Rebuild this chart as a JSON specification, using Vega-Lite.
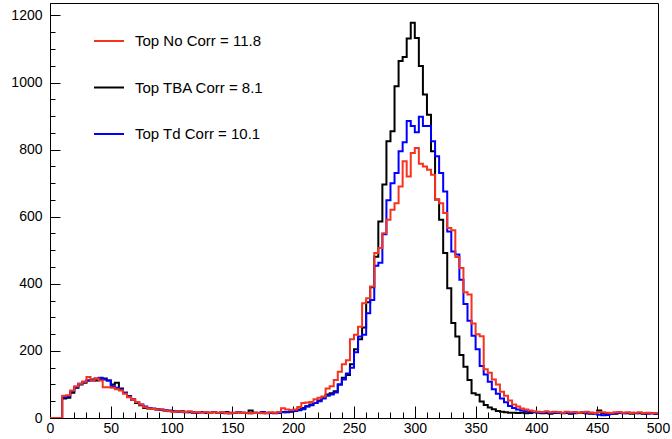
{
"$schema": "https://vega.github.io/schema/vega-lite/v6.json",
"width": 608, "height": 415,
"autosize": {"type": "none"},
"padding": {"left": 50, "top": 3, "right": 14, "bottom": 21},
"background": "white",
"config": {"view": {"stroke": "black", "strokeWidth": 1}, "font": "Liberation Sans"},
"data": {"values": [
{"x":0,"a":0,"b":0,"c":0},
{"x":3.333,"a":0,"b":0,"c":0},
{"x":6.667,"a":0,"b":0,"c":0},
{"x":10,"a":66,"b":58,"c":62},
{"x":13.333,"a":68,"b":60,"c":65},
{"x":16.667,"a":82,"b":75,"c":80},
{"x":20,"a":95,"b":90,"c":92},
{"x":23.333,"a":102,"b":100,"c":102},
{"x":26.667,"a":108,"b":105,"c":108},
{"x":30,"a":122,"b":112,"c":112},
{"x":33.333,"a":112,"b":115,"c":112},
{"x":36.667,"a":118,"b":112,"c":118},
{"x":40,"a":112,"b":115,"c":120},
{"x":43.333,"a":92,"b":118,"c":115},
{"x":46.667,"a":92,"b":112,"c":112},
{"x":50,"a":90,"b":100,"c":95},
{"x":53.333,"a":86,"b":105,"c":90},
{"x":56.667,"a":82,"b":88,"c":85},
{"x":60,"a":72,"b":75,"c":75},
{"x":63.333,"a":62,"b":65,"c":65},
{"x":66.667,"a":55,"b":55,"c":55},
{"x":70,"a":48,"b":45,"c":48},
{"x":73.333,"a":40,"b":38,"c":40},
{"x":76.667,"a":32,"b":30,"c":34},
{"x":80,"a":28,"b":28,"c":30},
{"x":83.333,"a":27,"b":27,"c":28},
{"x":86.667,"a":25,"b":25,"c":26},
{"x":90,"a":25,"b":24,"c":25},
{"x":93.333,"a":22,"b":22,"c":23},
{"x":96.667,"a":20,"b":21,"c":22},
{"x":100,"a":18,"b":20,"c":20},
{"x":103.333,"a":20,"b":19,"c":20},
{"x":106.667,"a":19,"b":20,"c":18},
{"x":110,"a":18,"b":17,"c":19},
{"x":113.333,"a":20,"b":18,"c":17},
{"x":116.667,"a":17,"b":16,"c":18},
{"x":120,"a":18,"b":17,"c":16},
{"x":123.333,"a":16,"b":18,"c":17},
{"x":126.667,"a":18,"b":15,"c":15},
{"x":130,"a":15,"b":16,"c":16},
{"x":133.333,"a":17,"b":17,"c":18},
{"x":136.667,"a":16,"b":15,"c":15},
{"x":140,"a":18,"b":16,"c":17},
{"x":143.333,"a":15,"b":18,"c":14},
{"x":146.667,"a":14,"b":14,"c":16},
{"x":150,"a":16,"b":15,"c":15},
{"x":153.333,"a":17,"b":17,"c":17},
{"x":156.667,"a":15,"b":16,"c":16},
{"x":160,"a":16,"b":15,"c":15},
{"x":163.333,"a":14,"b":22,"c":14},
{"x":166.667,"a":15,"b":16,"c":16},
{"x":170,"a":16,"b":15,"c":15},
{"x":173.333,"a":14,"b":17,"c":17},
{"x":176.667,"a":15,"b":16,"c":14},
{"x":180,"a":17,"b":15,"c":15},
{"x":183.333,"a":16,"b":14,"c":16},
{"x":186.667,"a":18,"b":16,"c":15},
{"x":190,"a":29,"b":18,"c":17},
{"x":193.333,"a":25,"b":17,"c":18},
{"x":196.667,"a":24,"b":19,"c":20},
{"x":200,"a":25,"b":21,"c":22},
{"x":203.333,"a":33,"b":25,"c":23},
{"x":206.667,"a":45,"b":30,"c":26},
{"x":210,"a":46,"b":35,"c":34},
{"x":213.333,"a":48,"b":40,"c":38},
{"x":216.667,"a":56,"b":45,"c":45},
{"x":220,"a":60,"b":52,"c":50},
{"x":223.333,"a":64,"b":62,"c":58},
{"x":226.667,"a":88,"b":70,"c":66},
{"x":230,"a":95,"b":74,"c":70},
{"x":233.333,"a":113,"b":80,"c":76},
{"x":236.667,"a":138,"b":100,"c":100},
{"x":240,"a":160,"b":120,"c":115},
{"x":243.333,"a":172,"b":128,"c":133},
{"x":246.667,"a":235,"b":160,"c":150},
{"x":250,"a":248,"b":205,"c":196},
{"x":253.333,"a":272,"b":235,"c":243},
{"x":256.667,"a":342,"b":270,"c":248},
{"x":260,"a":357,"b":345,"c":312},
{"x":263.333,"a":392,"b":390,"c":352},
{"x":266.667,"a":492,"b":481,"c":454},
{"x":270,"a":507,"b":586,"c":463},
{"x":273.333,"a":551,"b":696,"c":548},
{"x":276.667,"a":591,"b":825,"c":649},
{"x":280,"a":621,"b":855,"c":700},
{"x":283.333,"a":640,"b":989,"c":730},
{"x":286.667,"a":690,"b":1064,"c":795},
{"x":290,"a":765,"b":1076,"c":822},
{"x":293.333,"a":720,"b":1131,"c":885},
{"x":296.667,"a":790,"b":1178,"c":870},
{"x":300,"a":805,"b":1133,"c":852},
{"x":303.333,"a":758,"b":1049,"c":898},
{"x":306.667,"a":750,"b":964,"c":870},
{"x":310,"a":740,"b":904,"c":870},
{"x":313.333,"a":725,"b":795,"c":825},
{"x":316.667,"a":651,"b":651,"c":780},
{"x":320,"a":640,"b":591,"c":730},
{"x":323.333,"a":611,"b":492,"c":675},
{"x":326.667,"a":566,"b":387,"c":556},
{"x":330,"a":560,"b":283,"c":496},
{"x":333.333,"a":480,"b":243,"c":487},
{"x":336.667,"a":447,"b":188,"c":412},
{"x":340,"a":375,"b":153,"c":340},
{"x":343.333,"a":368,"b":113,"c":290},
{"x":346.667,"a":282,"b":74,"c":245},
{"x":350,"a":250,"b":69,"c":205},
{"x":353.333,"a":244,"b":49,"c":155},
{"x":356.667,"a":145,"b":39,"c":130},
{"x":360,"a":135,"b":31,"c":108},
{"x":363.333,"a":115,"b":26,"c":86},
{"x":366.667,"a":100,"b":21,"c":72},
{"x":370,"a":78,"b":19,"c":58},
{"x":373.333,"a":66,"b":17,"c":47},
{"x":376.667,"a":52,"b":16,"c":36},
{"x":380,"a":40,"b":16,"c":30},
{"x":383.333,"a":34,"b":15,"c":25},
{"x":386.667,"a":28,"b":16,"c":22},
{"x":390,"a":25,"b":14,"c":20},
{"x":393.333,"a":22,"b":15,"c":19},
{"x":396.667,"a":20,"b":17,"c":18},
{"x":400,"a":19,"b":16,"c":17},
{"x":403.333,"a":18,"b":14,"c":16},
{"x":406.667,"a":20,"b":15,"c":18},
{"x":410,"a":17,"b":13,"c":15},
{"x":413.333,"a":19,"b":15,"c":17},
{"x":416.667,"a":18,"b":16,"c":16},
{"x":420,"a":16,"b":14,"c":15},
{"x":423.333,"a":19,"b":15,"c":17},
{"x":426.667,"a":17,"b":13,"c":14},
{"x":430,"a":18,"b":14,"c":16},
{"x":433.333,"a":16,"b":16,"c":15},
{"x":436.667,"a":17,"b":15,"c":17},
{"x":440,"a":19,"b":14,"c":14},
{"x":443.333,"a":16,"b":13,"c":16},
{"x":446.667,"a":15,"b":15,"c":13},
{"x":450,"a":18,"b":22,"c":10},
{"x":453.333,"a":17,"b":14,"c":8},
{"x":456.667,"a":16,"b":15,"c":9},
{"x":460,"a":15,"b":14,"c":12},
{"x":463.333,"a":17,"b":13,"c":15},
{"x":466.667,"a":18,"b":16,"c":16},
{"x":470,"a":16,"b":15,"c":14},
{"x":473.333,"a":17,"b":14,"c":15},
{"x":476.667,"a":15,"b":13,"c":16},
{"x":480,"a":16,"b":15,"c":14},
{"x":483.333,"a":17,"b":14,"c":15},
{"x":486.667,"a":15,"b":13,"c":14},
{"x":490,"a":16,"b":15,"c":13},
{"x":493.333,"a":14,"b":14,"c":14},
{"x":496.667,"a":15,"b":13,"c":13},
{"x":500,"a":15,"b":13,"c":13}
]},
"transform": [{"fold": ["b", "c", "a"], "as": ["series", "value"]}],
"mark": {"type": "line", "interpolate": "step-after", "strokeWidth": 2, "clip": true},
"encoding": {
  "x": {"field": "x", "type": "quantitative",
    "scale": {"domain": [0, 500], "nice": false, "zero": false},
    "axis": {"title": null, "grid": false,
      "values": [0,10,20,30,40,50,60,70,80,90,100,110,120,130,140,150,160,170,180,190,200,210,220,230,240,250,260,270,280,290,300,310,320,330,340,350,360,370,380,390,400,410,420,430,440,450,460,470,480,490,500],
      "labelExpr": "datum.value % 50 === 0 ? '' + datum.value : ''",
      "tickSize": {"condition": {"test": "datum.value % 50 === 0", "value": -12}, "value": -6},
      "tickColor": "black", "tickWidth": 1, "domainColor": "black", "domainWidth": 1,
      "labelFontSize": 14, "labelColor": "black", "labelFont": "Liberation Sans",
      "labelPadding": 15, "labelFlush": false, "labelOverlap": false}},
  "y": {"field": "value", "type": "quantitative",
    "scale": {"domain": [0, 1237], "nice": false},
    "axis": {"title": null, "grid": false,
      "values": [0,50,100,150,200,250,300,350,400,450,500,550,600,650,700,750,800,850,900,950,1000,1050,1100,1150,1200],
      "labelExpr": "datum.value % 200 === 0 ? '' + datum.value : ''",
      "tickSize": {"condition": {"test": "datum.value % 200 === 0", "value": -10}, "value": -5},
      "tickColor": "black", "tickWidth": 1, "domainColor": "black", "domainWidth": 1,
      "labelFontSize": 14, "labelColor": "black", "labelFont": "Liberation Sans",
      "labelPadding": 18, "labelFlush": false, "labelOverlap": false}},
  "color": {"field": "series", "type": "nominal",
    "scale": {"domain": ["a", "b", "c"], "range": ["#f5331f", "#000000", "#0000ff"]},
    "legend": {"title": null, "orient": "none", "legendX": 43, "legendY": 22, "padding": 0,
      "symbolType": "stroke", "symbolSize": 900, "symbolStrokeWidth": 2,
      "labelFontSize": 15, "labelFont": "Liberation Sans", "labelColor": "black",
      "labelOffset": 10, "rowPadding": 22.5,
      "labelExpr": "datum.label == 'a' ? 'Top No Corr = 11.8' : datum.label == 'b' ? 'Top TBA Corr = 8.1' : 'Top Td Corr = 10.1'"}}
}
}
